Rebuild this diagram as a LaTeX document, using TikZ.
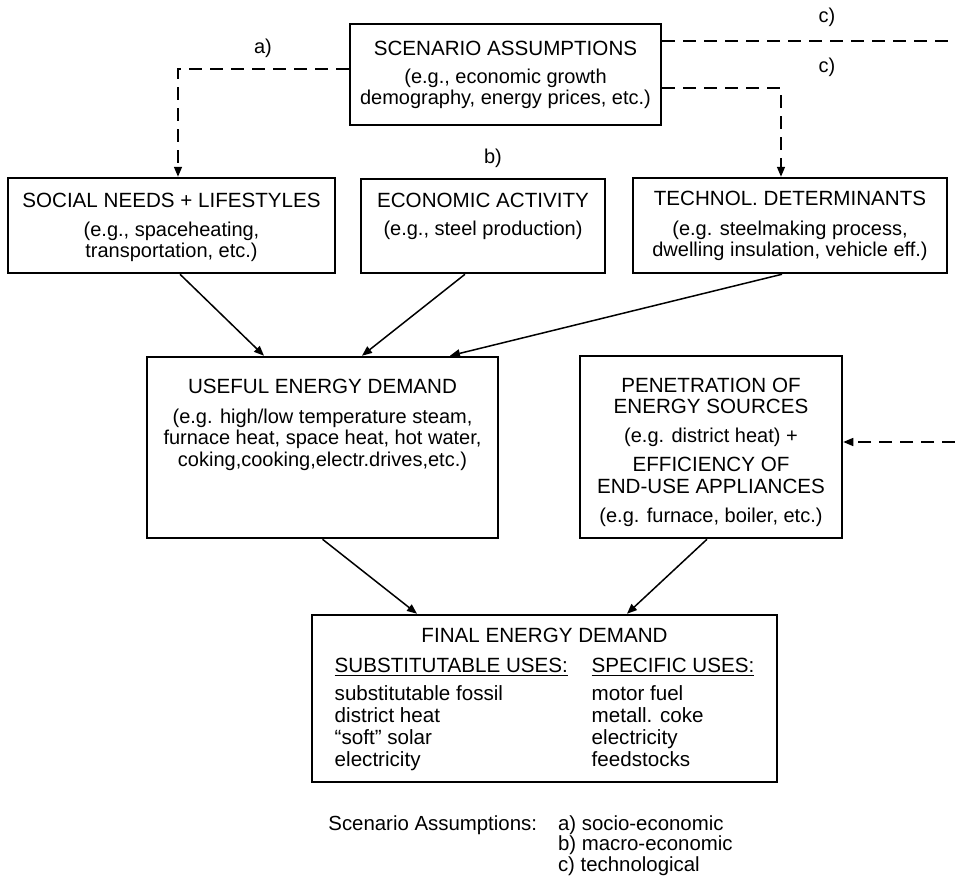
\documentclass[tikz,border=0pt]{standalone}
\usepackage{fontspec}
\setmainfont{Liberation Sans}
\usetikzlibrary{arrows.meta}

% box of fixed size, text hung from the top (width, height, first baseline, text)
\newcommand{\blockbox}[4]{\parbox[c][#2][t]{#1}{\centering\rule{0pt}{#3}#4}}
\newcommand{\ttl}{\fontsize{10.3}{10.75}\selectfont}

\begin{document}
\begin{tikzpicture}[x=0.5pt,y=-0.5pt,
  block/.style={draw,line width=1.25pt,inner sep=0pt,font=\fontsize{10}{10.75}\selectfont},
  flow/.style={line width=0.75pt,-{Triangle[length=5pt,width=4pt]}},
  assume/.style={flow,dash pattern=on 6.5pt off 4pt},
  tag/.style={font=\fontsize{10}{12}\selectfont}]
\useasboundingbox (0,0) rectangle (955,879);

\node[block] (scen) at (505.5,74.5) {\blockbox{155.5pt}{50.5pt}{15.5pt}{%
  {\ttl SCENARIO ASSUMPTIONS}\\[3.25pt]
  (e.g., economic growth\\ demography, energy prices, etc.)}};

\node[block] (social) at (171.5,225.5) {\blockbox{163.5pt}{47.5pt}{14.5pt}{%
  {\ttl SOCIAL NEEDS + LIFESTYLES}\\[3.75pt]
  (e.g., spaceheating,\\ transportation, etc.)}};
\node[block] (econ) at (483,226) {\blockbox{122pt}{47pt}{14pt}{%
  {\ttl ECONOMIC ACTIVITY}\\[3.25pt]
  (e.g., steel production)}};
\node[block] (technol) at (790,225.5) {\blockbox{157pt}{47.5pt}{13.5pt}{%
  {\ttl TECHNOL. DETERMINANTS}\\[4.25pt]
  (e.g. steelmaking process,\\ dwelling insulation, vehicle eff.)}};

\node[block] (useful) at (322.5,447.5) {\blockbox{175.5pt}{90.5pt}{18pt}{%
  {\ttl USEFUL ENERGY DEMAND}\\[4.25pt]
  (e.g. high/low temperature steam,\\
  furnace heat, space heat, hot water,\\
  coking,cooking,electr.drives,etc.)}};
\node[block] (pen) at (711,447) {\blockbox{131pt}{91pt}{18pt}{%
  {\ttl PENETRATION OF\\ ENERGY SOURCES}\\[3.75pt]
  (e.g. district heat) +\\[3.75pt]
  {\ttl EFFICIENCY OF\\ END-USE APPLIANCES}\\[3.75pt]
  (e.g. furnace, boiler, etc.)}};

\node[block] (final) at (544.5,698.5) {\blockbox{232.5pt}{83.5pt}{13.5pt}{%
  {\ttl FINAL ENERGY DEMAND}\\[4.25pt]
  \fontsize{10.3}{11}\selectfont
  \begin{tabular}[t]{@{}p{128.5pt}@{}l@{}}
  \underline{SUBSTITUTABLE USES:} & \underline{SPECIFIC USES:}\\[3pt]
  substitutable fossil & motor fuel\\
  district heat & metall. coke\\
  ``soft'' solar & electricity\\
  electricity & feedstocks
  \end{tabular}}};

% loose ends of the c) lines
\coordinate (cout) at (955,41);
\coordinate (cin) at (955,442);

% scenario assumptions (dashed)
\draw[assume] ([yshift=2.75pt]scen.west) -| ([xshift=3.25pt]social.north);
\draw[assume] ([yshift=-6.75pt]scen.east) -| ([xshift=-4.5pt]technol.north);
\draw[assume,-] ([yshift=16.75pt]scen.east) -- (cout);
\draw[assume] (cin) -- ([yshift=2.5pt]pen.east);

\node[tag] (la) at (263,48) {a)};
\node[tag] (lb) at (493,158) {b)};
\node[tag] (lc1) at (827,17) {c)};
\node[tag] (lc2) at (827,67) {c)};

% demand chain
\draw[flow] ([xshift=4.25pt]social.south) -- ([xshift=-29.25pt]useful.north);
\draw[flow] ([xshift=-9pt]econ.south) -- ([xshift=19.75pt]useful.north);
\draw[flow] ([xshift=-4pt]technol.south) -- ([xshift=63.75pt]useful.north);
\draw[flow] (useful.south) -- ([xshift=-63.75pt]final.north);
\draw[flow] ([xshift=-2pt]pen.south) -- ([xshift=41.25pt]final.north);

% key
\node[anchor=base west,inner sep=0pt,font=\fontsize{10.2}{10.25}\selectfont] (key) at (328,830)
  {\begin{tabular}[t]{@{}l@{\hspace{10.5pt}}l@{}}
  Scenario Assumptions: & a) socio-economic\\
   & b) macro-economic\\
   & c) technological
  \end{tabular}};
\end{tikzpicture}
\end{document}
